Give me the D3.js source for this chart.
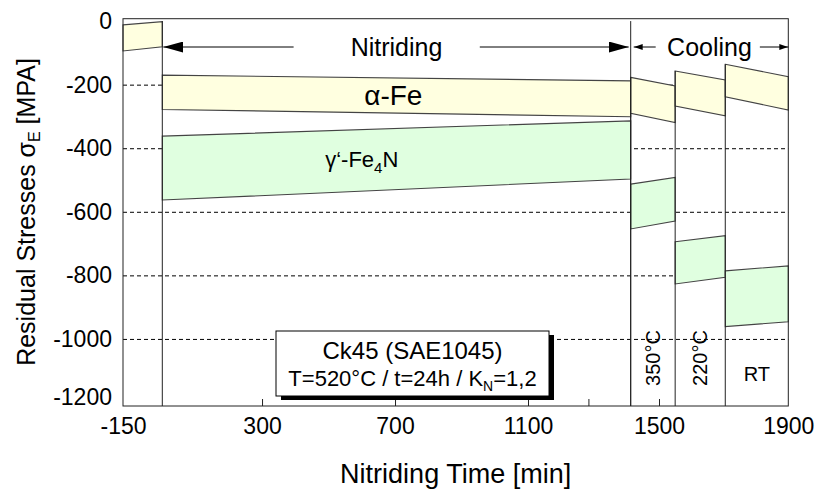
<!DOCTYPE html>
<html>
<head>
<meta charset="utf-8"/>
<script src="https://cdn.jsdelivr.net/npm/d3@7/dist/d3.min.js"></script>
<style>
  html,body { margin:0; padding:0; background:#fff; }
  svg { display:block; font-family:"Liberation Sans", Arial, sans-serif; }
</style>
</head>
<body>
<svg width="816" height="491"></svg>
<script>
// axis values
const xLabels = [-150, 300, 700, 1100, 1500, 1900];
const xTicks  = [300, 700, 1100, 1300, 1500];
const yLabels = [0, -200, -400, -600, -800, -1000, -1200];
const yGrid   = [-200, -400, -600, -800, -1000];

// stages (min): before nitriding, nitriding, 3 cooling steps
const stageStart = [-150, 0, 1440, 1550, 1705];
const stageEnd   = [0, 1440, 1550, 1705, 1900];
const stageLabel = [null, null, "350°C", "220°C", "RT"];
const stageRot   = [false, false, true, true, false];

// alpha-Fe band (MPa) at start / end of each stage
const alphaTop0 = [-12, -170, -177, -157, -136];
const alphaTop1 = [-2, -188, -204, -185, -175];
const alphaBot0 = [-94, -278, -290, -267, -238];
const alphaBot1 = [-81, -301, -319, -298, -280];
// gamma'-Fe4N band
const gammaTop0 = [null, -362, -513, -694, -786];
const gammaTop1 = [null, -314, -492, -675, -770];
const gammaBot0 = [null, -563, -654, -827, -961];
const gammaBot1 = [null, -497, -629, -806, -946];

// phases on top
const phaseName  = ["Nitriding", "Cooling"];
const phaseFrom  = [0, 1440];
const phaseTo    = [1440, 1900];
const arrowInner0 = [395, 1493];
const arrowInner1 = [955, 1812];

const svg = d3.select("svg");
const L = 123, R = 788.3, T = 18.7, B = 406;

// the drawing's time axis is not quite linear -> piecewise scale
const x = d3.scaleLinear()
  .domain([-150, 0, 1100, 1440, 1500, 1900])
  .range([L, 162.3, 528, 630.7, 659, R]);
const y = d3.scaleLinear().domain([-1211, 7.5]).range([B, T]);

// dashed grid
const grid = svg.append("g").attr("transform", `translate(${L},0)`)
  .call(d3.axisLeft(y).tickValues(yGrid).tickSize(-(R - L)).tickFormat(""));
grid.select(".domain").remove();
grid.selectAll("line").attr("stroke", "#000").attr("stroke-dasharray", "4,3");

// bands
const band = (i, t0, t1, b0, b1) => "M" + [
  [x(stageStart[i]), y(t0[i])], [x(stageEnd[i]), y(t1[i])],
  [x(stageEnd[i]), y(b1[i])], [x(stageStart[i]), y(b0[i])]
].join("L") + "Z";

const idx = d3.range(stageStart.length);
svg.append("g").selectAll("path").data(idx).join("path")
  .attr("d", i => band(i, alphaTop0, alphaTop1, alphaBot0, alphaBot1))
  .attr("fill", "#ffffe0").attr("stroke", "#444").attr("stroke-width", 1.1);
svg.append("g").selectAll("path").data(idx.filter(i => gammaTop0[i] !== null)).join("path")
  .attr("d", i => band(i, gammaTop0, gammaTop1, gammaBot0, gammaBot1))
  .attr("fill", "#e0ffe0").attr("stroke", "#444").attr("stroke-width", 1.1);

// vertical separators
svg.append("g").selectAll("line").data(phaseFrom).join("line")
  .attr("x1", d => x(d)).attr("x2", d => x(d))
  .attr("y1", y(0)).attr("y2", B).attr("stroke", "#222");
const inner = [2, 3, 4];
svg.append("g").selectAll("line").data(inner).join("line")
  .attr("x1", i => x(stageStart[i])).attr("x2", i => x(stageStart[i]))
  .attr("y1", i => y(Math.max(alphaTop0[i], alphaTop1[i - 1])))
  .attr("y2", B).attr("stroke", "#222");

// axes (plain hyphen for minus, like the original)
const fs = 23;
const fmt = d => String(d);
const xa = svg.append("g").attr("transform", `translate(0,${B})`)
  .call(d3.axisBottom(x).tickValues(xLabels).tickSize(0).tickPadding(12).tickFormat(fmt));
xa.select(".domain").remove();
xa.selectAll("text").attr("font-size", fs).attr("font-family", null).attr("fill", "#000");
const xt = svg.append("g").attr("transform", `translate(0,${B})`)
  .call(d3.axisBottom(x).tickValues(xTicks).tickSizeInner(-7).tickSizeOuter(0).tickFormat(""));
xt.select(".domain").remove();
xt.selectAll("line").attr("stroke", "#222");

const ya = svg.append("g").attr("transform", `translate(${L},0)`)
  .call(d3.axisLeft(y).tickValues(yLabels).tickSize(0).tickPadding(11).tickFormat(fmt));
ya.select(".domain").remove();
ya.selectAll("text").attr("font-size", fs).attr("font-family", null).attr("fill", "#000");
ya.selectAll(".tick").filter(d => d === -1200).select("text").attr("dy", "0.1em");

svg.append("rect").attr("x", L).attr("y", T).attr("width", R - L).attr("height", B - T)
  .attr("fill", "none").attr("stroke", "#222");

// axis titles
svg.append("text").attr("x", (L + R) / 2).attr("y", 483)
  .attr("text-anchor", "middle").attr("font-size", 27).text("Nitriding Time [min]");
const yt = svg.append("text").attr("transform", "translate(35,212) rotate(-90)")
  .attr("text-anchor", "middle").attr("font-size", 25);
yt.append("tspan").text("Residual Stresses σ");
yt.append("tspan").attr("font-size", 16).attr("dy", 5).text("E");
yt.append("tspan").attr("dy", -5).text(" [MPA]");

// band labels
svg.append("text").attr("x", x(695)).attr("y", y(-264))
  .attr("text-anchor", "middle").attr("font-size", 28).text("α-Fe");
const gl = svg.append("text").attr("x", x(600)).attr("y", y(-458))
  .attr("text-anchor", "middle").attr("font-size", 22);
gl.append("tspan").text("γ‘-Fe");
gl.append("tspan").attr("font-size", 15).attr("dy", 6).text("4");
gl.append("tspan").attr("dy", -6).text("N");

// stage temperatures
idx.filter(i => stageLabel[i]).forEach(i => {
  const cx = (x(stageStart[i]) + x(stageEnd[i])) / 2;
  const t = svg.append("text").attr("font-size", 20).attr("text-anchor", "middle").text(stageLabel[i]);
  if (stageRot[i]) t.attr("transform", `translate(${cx + 7},358) rotate(-90)`);
  else t.attr("x", cx).attr("y", 381);
});

// phase arrows
const defs = svg.append("defs");
const mk = (id, w, h) => defs.append("marker").attr("id", id)
  .attr("markerUnits", "userSpaceOnUse").attr("markerWidth", w).attr("markerHeight", h)
  .attr("refX", w).attr("refY", h / 2).attr("orient", "auto")
  .append("path").attr("d", `M0,0L${w},${h / 2}L0,${h}Z`).attr("fill", "#000");
mk("big", 20, 11);
mk("small", 9, 6);
const ay = 47;
phaseName.forEach((n, i) => {
  const m = i === 0 ? "big" : "small";
  svg.append("text").attr("x", (x(phaseFrom[i]) + x(phaseTo[i])) / 2).attr("y", 56)
    .attr("text-anchor", "middle").attr("font-size", 25).text(n);
  svg.append("line").attr("x1", x(arrowInner0[i])).attr("x2", x(phaseFrom[i]) + (i ? 3 : 1))
    .attr("y1", ay).attr("y2", ay).attr("stroke", "#000").attr("marker-end", `url(#${m})`);
  svg.append("line").attr("x1", x(arrowInner1[i])).attr("x2", x(phaseTo[i]) - (i ? 0 : 2))
    .attr("y1", ay).attr("y2", ay).attr("stroke", "#000").attr("marker-end", `url(#${m})`);
});

// info box with shadow
const bx = 276, by = 331, bw = 273, bh = 65;
svg.append("rect").attr("x", bx + 5).attr("y", by + 4).attr("width", bw).attr("height", bh).attr("fill", "#000");
svg.append("rect").attr("x", bx).attr("y", by).attr("width", bw).attr("height", bh)
  .attr("fill", "#fff").attr("stroke", "#000");
svg.append("text").attr("x", bx + bw / 2).attr("y", 359).attr("text-anchor", "middle")
  .attr("font-size", 24).text("Ck45 (SAE1045)");
const l2 = svg.append("text").attr("x", bx + bw / 2).attr("y", 386).attr("text-anchor", "middle")
  .attr("font-size", 22);
l2.append("tspan").text("T=520°C / t=24h / K");
l2.append("tspan").attr("font-size", 14).attr("dy", 5).text("N");
l2.append("tspan").attr("dy", -5).text("=1,2");
</script>
</body>
</html>
